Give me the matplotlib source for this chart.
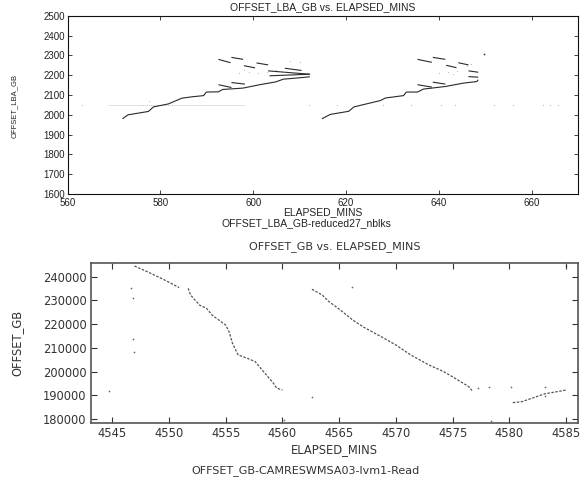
import matplotlib
matplotlib.use("Agg")
import matplotlib.pyplot as plt

# ---- top panel: OFFSET_LBA_GB vs ELAPSED_MINS (two sweeps) ----
SWEEP1_MIN = [571.8, 573.0, 577.4, 578.5, 581.7, 583.9, 584.6, 586.8, 589.3, 589.9,
              592.5, 593.4, 597.8, 601.4, 604.8, 606.5, 609.5, 612.2]
SWEEP1_GB = [1980, 2000, 2017, 2040, 2055, 2077, 2084, 2091, 2097, 2115,
             2116, 2128, 2135, 2152, 2166, 2180, 2186, 2192]
SWEEP2_MIN = [614.8, 616.6, 620.6, 621.7, 627.4, 628.5, 632.4, 633.0, 635.4, 636.7,
              641.4, 645.3, 648.2, 648.5]
SWEEP2_GB = [1980, 2002, 2018, 2040, 2072, 2085, 2097, 2115, 2115, 2130,
             2143, 2160, 2168, 2177]

# short back-stroke segments: start min, end min, start GB, end GB
DASH_X0 = [592.5, 595.3, 598.0, 600.7, 603.2, 606.8, 603.5, 606.8, 595.3, 592.5,
           635.4, 638.7, 641.6, 644.2, 646.4, 646.4, 635.4, 638.7]
DASH_X1 = [595.1, 597.8, 600.4, 603.2, 606.8, 610.4, 612.2, 612.2, 598.2, 595.3,
           638.5, 641.4, 643.8, 646.4, 648.5, 648.5, 638.5, 641.4]
DASH_Y0 = [2280, 2290, 2248, 2262, 2222, 2235, 2197, 2215, 2163, 2152,
           2280, 2290, 2250, 2263, 2222, 2193, 2152, 2165]
DASH_Y1 = [2263, 2280, 2237, 2252, 2215, 2224, 2205, 2205, 2155, 2138,
           2265, 2280, 2238, 2252, 2215, 2190, 2140, 2155]

# faint scattered samples
FAINT_MIN = [597, 599, 601, 603, 605, 608, 610, 598, 577.5, 640, 642, 644, 646, 647, 643,
             612, 618, 628, 634, 640.5, 643.5, 652, 656, 662.5, 664, 665.8, 563]
FAINT_GB = [2212, 2215, 2212, 2218, 2225, 2270, 2265, 2225, 2070, 2212, 2215, 2222, 2245, 2255, 2208,
            2050, 2050, 2050, 2050, 2050, 2050, 2050, 2050, 2050, 2050, 2050, 2050]
BAND_MIN = [568.6, 598.2]
BAND_GB = [2050, 2050]
STRAY_MIN = [649.8]
STRAY_GB = [2308]

# ---- bottom panel: OFFSET_GB vs ELAPSED_MINS ----
RUN1_MIN = [4546.96, 4548.0, 4549.5, 4550.9]
RUN1_GB = [244500, 242300, 238900, 235400]
RUN2_MIN = [4551.7, 4551.9, 4552.7, 4553.3, 4553.8, 4555.0, 4555.3, 4555.6, 4556.1,
            4556.9, 4557.6, 4558.2, 4559.2, 4559.5, 4560.0]
RUN2_GB = [235100, 232300, 228000, 226700, 223800, 219600, 216800, 211900, 207000,
           205600, 204200, 200700, 195100, 193000, 192200]
RUN3_MIN = [4562.6, 4563.5, 4564.1, 4564.9, 4566.2, 4567.2, 4568.7, 4570.0, 4571.3,
            4572.9, 4574.2, 4575.2, 4576.4, 4576.7]
RUN3_GB = [234700, 232300, 229500, 226700, 221700, 218600, 214700, 211200, 207000,
           202800, 200000, 197200, 193700, 192000]
RUN4_MIN = [4580.3, 4581.1, 4583.1, 4585.0]
RUN4_GB = [186900, 187300, 190600, 192200]
SPOT_MIN = [4546.7, 4546.8, 4546.8, 4546.9, 4544.7, 4566.1, 4562.6, 4577.2, 4578.2,
            4580.1, 4578.4, 4560.1, 4585.0, 4583.1, 4583.1]
SPOT_GB = [235100, 230900, 213600, 208400, 191800, 235800, 189400, 193000, 193700,
           193700, 179300, 179600, 244500, 193700, 189500]

fig = plt.figure(figsize=(5.81, 4.78), dpi=100)

# top panel
ax1 = fig.add_axes([0.1165, 0.594, 0.8783, 0.373])
line_kw = dict(color="#2a2a2a", lw=0.8, solid_capstyle="butt")
ax1.plot(BAND_MIN, BAND_GB, color="#c8c8c8", lw=0.6, ls=(0, (1.5, 0.8)))
ax1.plot(SWEEP1_MIN, SWEEP1_GB, **line_kw)
ax1.plot(SWEEP2_MIN, SWEEP2_GB, **line_kw)
for x0, x1, y0, y1 in zip(DASH_X0, DASH_X1, DASH_Y0, DASH_Y1):
    ax1.plot([x0, x1], [y0, y1], **line_kw)
ax1.scatter(FAINT_MIN, FAINT_GB, s=0.6, color="#b0b0b0", linewidths=0)
ax1.scatter(STRAY_MIN, STRAY_GB, s=1.5, color="#333333", linewidths=0)
ax1.set_xlim(560, 670)
ax1.set_ylim(1600, 2500)
ax1.set_xticks(range(560, 661, 20))
ax1.set_yticks(range(1600, 2501, 100))
ax1.tick_params(direction="in", top=True, right=True, length=3, width=0.6,
                labelsize=7, colors="#222222")
ax1.tick_params(axis="x", pad=3)
ax1.tick_params(axis="y", pad=2)
for lab in ax1.get_xticklabels() + ax1.get_yticklabels():
    lab.set_family(["Liberation Sans"])
for sp in ax1.spines.values():
    sp.set_linewidth(0.8)
    sp.set_color("#111111")

fig.text(0.556, 0.986, "OFFSET_LBA_GB vs. ELAPSED_MINS", ha="center", va="center",
         fontsize=7.5, family="Liberation Sans", color="#222222")
fig.text(0.556, 0.556, "ELAPSED_MINS", ha="center", va="center",
         fontsize=7.5, family="Liberation Sans", color="#222222")
fig.text(0.528, 0.534, "OFFSET_LBA_GB-reduced27_nblks", ha="center", va="center",
         fontsize=7.5, family="Liberation Sans", color="#222222")
fig.text(0.024, 0.778, "OFFSET_LBA_GB", ha="center", va="center", rotation=90,
         fontsize=5.5, family=["Liberation Sans Narrow", "Liberation Sans"], color="#222222")

# bottom panel
ax2 = fig.add_axes([0.156, 0.1157, 0.838, 0.3335])
dot_kw = dict(color="#555555", lw=0.9, ls=(0, (2, 1.2)))
ax2.plot(RUN1_MIN, RUN1_GB, **dot_kw)
ax2.plot(RUN2_MIN, RUN2_GB, **dot_kw)
ax2.plot(RUN3_MIN, RUN3_GB, **dot_kw)
ax2.plot(RUN4_MIN, RUN4_GB, **dot_kw)
ax2.scatter(SPOT_MIN, SPOT_GB, s=1.5, color="#666666", linewidths=0)
ax2.set_xlim(4543.1, 4586.0)
ax2.set_ylim(178440, 245650)
ax2.set_xticks(range(4545, 4586, 5))
ax2.set_yticks(range(180000, 240001, 10000))
ax2.tick_params(direction="in", top=True, right=True, length=4, width=0.8,
                labelsize=8.3, colors="#333333", pad=3)
for sp in ax2.spines.values():
    sp.set_linewidth(1.2)
    sp.set_color("#555555")

fig.text(0.576, 0.484, "OFFSET_GB vs. ELAPSED_MINS", ha="center", va="center",
         fontsize=8, color="#333333")
fig.text(0.576, 0.059, "ELAPSED_MINS", ha="center", va="center",
         fontsize=8.3, color="#333333")
fig.text(0.525, 0.015, "OFFSET_GB-CAMRESWMSA03-lvm1-Read", ha="center", va="center",
         fontsize=8, color="#333333")
fig.text(0.029, 0.282, "OFFSET_GB", ha="center", va="center", rotation=90,
         fontsize=8.3, color="#333333")

fig.savefig("out.png", dpi=100)
